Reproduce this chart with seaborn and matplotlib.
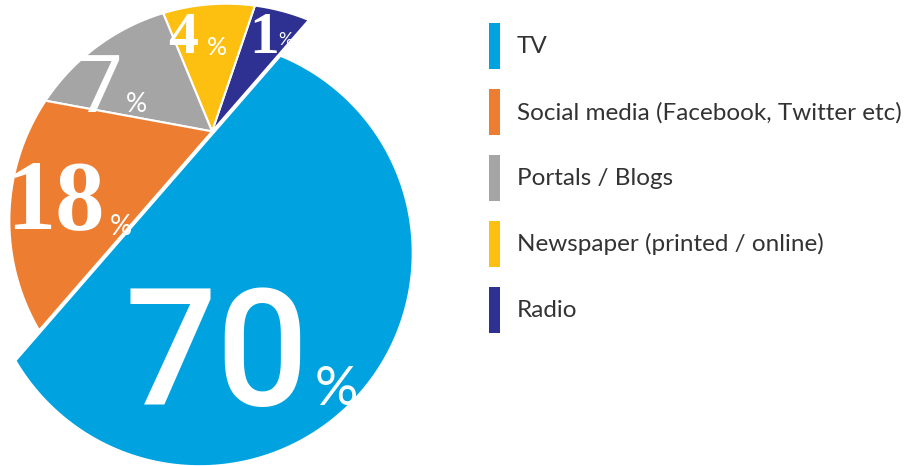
import numpy as np
import matplotlib
matplotlib.use("Agg")
import matplotlib.pyplot as plt
from matplotlib.patches import Polygon, Patch
import seaborn as sns

# Share of respondents by main news source (%)
channels = ["TV", "Social media (Facebook, Twitter etc)", "Portals / Blogs",
            "Newspaper (printed / online)", "Radio"]
shares = [70, 18, 7, 4, 1]
palette = ["#00A3E0", "#ED7D31", "#A5A5A5", "#FDC010", "#2E3192"]

W, H = 909, 466
sns.set_theme(style="white")
colors = sns.color_palette(palette)

fig = plt.figure(figsize=(W / 100, H / 100), dpi=100)
ax = fig.add_axes([0, 0, 1, 1])
ax.set_xlim(0, W)
ax.set_ylim(H, 0)
ax.set_aspect("equal")
ax.axis("off")

# --- layout of the split disc (pixel units, y down) ---
R_big, R_cap = 213.0, 217.0
center = np.array([199.5, 253.0])
cut = np.deg2rad(-49.0)
u = np.array([np.cos(cut), np.sin(cut)])      # along the cut
n = np.array([u[1], -u[0]])                   # towards the smaller cap
slide, gap = 42.0, 2.2                        # cap shifted along the cut
apex_off = 58.0                               # fan apex position on the cut
min_frac = 0.085                              # smallest visible slice of the cap


def cap_fraction(rho):
    a = np.arccos(rho)
    return (a - np.sin(a) * np.cos(a)) / np.pi


# relative distance of the cut so that the big piece holds the leading share
total = float(sum(shares))
target = 1.0 - shares[0] / total
lo, hi = 0.0, 1.0
for _ in range(60):
    mid = 0.5 * (lo + hi)
    if cap_fraction(mid) > target:
        lo = mid
    else:
        hi = mid
rho = 0.5 * (lo + hi)
alpha = np.arccos(rho)


def circle_pts(c, r, t):
    t = np.atleast_1d(t)
    return c + r * (np.cos(t)[:, None] * n + np.sin(t)[:, None] * u)


# big piece
t_big = np.linspace(alpha, 2 * np.pi - alpha, 600)
ax.add_patch(Polygon(circle_pts(center, R_big, t_big), closed=True,
                     facecolor=colors[0], edgecolor="white", lw=1.2,
                     joinstyle="miter"))

# cap split into a fan from an apex on the cut, slice areas follow the shares
c2 = center + slide * u + (gap + (R_big - R_cap) * rho) * n
apex = c2 + rho * R_cap * n + apex_off * u
t_cap = np.linspace(alpha, -alpha, 4000)
arc = circle_pts(c2, R_cap, t_cap)
rel = arc - apex
seg = 0.5 * np.abs(rel[:-1, 0] * rel[1:, 1] - rel[:-1, 1] * rel[1:, 0])
cum = np.concatenate([[0.0], np.cumsum(seg)])
cum /= cum[-1]

rest = np.array(shares[1:][::-1], dtype=float)   # Radio, Newspaper, Portals, Social
frac = rest / rest.sum()
lifted = np.maximum(frac, min_frac)
lifted[np.argmax(lifted)] -= lifted.sum() - 1.0
bounds = np.concatenate([[0.0], np.cumsum(lifted)])
t_bounds = np.interp(bounds, cum, t_cap)

rest_colors = colors[1:][::-1]
for i in range(len(rest)):
    ts = np.linspace(t_bounds[i], t_bounds[i + 1], 400)
    pts = np.vstack([apex, circle_pts(c2, R_cap, ts)])
    ax.add_patch(Polygon(pts, closed=True, facecolor=rest_colors[i],
                         edgecolor="white", lw=1.5, joinstyle="miter"))

# --- value labels ---
sans = ["Lato", "DejaVu Sans"]
serif = ["Liberation Serif", "DejaVu Serif"]
noto = ["Noto Sans", "DejaVu Sans"]
lab = dict(color="white", va="baseline", ha="left")
tv, social, portals, news, radio = shares

ax.text(124, 405, f"{tv}", fontsize=117, family=["Roboto", "DejaVu Sans"],
        fontweight=500, **lab)
ax.text(315, 405, "%", fontsize=39, family=sans, **lab)

ax.text(6, 228, f"{social}", fontsize=71, family=serif, fontweight="bold", **lab)
ax.text(110, 235, "%", fontsize=20, family=sans, **lab)

ax.text(77, 112, f"{portals}", fontsize=58, family=noto, **lab)
ax.text(126, 112, "%", fontsize=19, family=sans, **lab)

ax.text(168, 53, f"{news}", fontsize=43, family=serif, fontweight="bold", **lab)
ax.text(207, 55, "%", fontsize=18, family=sans, **lab)

ax.text(249, 53, f"{radio}", fontsize=43, family=serif, fontweight="bold", **lab)
ax.text(278, 45, "%", fontsize=13, family=sans, **lab)

# --- legend ---
fs = 17.5
handles = [Patch(facecolor=c, edgecolor="none") for c in colors]
leg = ax.legend(handles, channels, loc="upper left",
                bbox_to_anchor=(489 / W, 1 - 23 / H), bbox_transform=fig.transFigure,
                frameon=False, handlelength=0.453, handleheight=2.535,
                labelspacing=0.82, handletextpad=0.70, borderpad=0, borderaxespad=0,
                prop={"family": "Lato", "size": fs}, labelcolor="#333333")

fig.savefig("out.png", dpi=100)
